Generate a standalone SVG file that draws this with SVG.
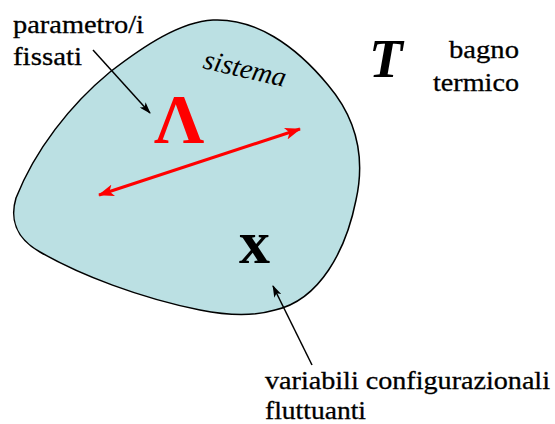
<svg xmlns="http://www.w3.org/2000/svg" width="555" height="424" viewBox="0 0 555 424">
<style>
.lbl{font-size:25px;fill:#000;stroke:#000;stroke-width:0.3}
.blk{stroke:#000;stroke-width:1.5;fill:none}
.red{stroke:#f00;stroke-width:3;fill:none}
</style>
<defs>
<marker id="ab" markerWidth="12" markerHeight="8" refX="11" refY="4" orient="auto" markerUnits="userSpaceOnUse">
<path d="M0,0 L12,4 L0,8 L3,4 Z" fill="#000"/>
</marker>
<marker id="ar" markerWidth="16" markerHeight="12" refX="15" refY="6" orient="auto-start-reverse" markerUnits="userSpaceOnUse">
<path d="M0,0 L16,6 L0,12 L4,6 Z" fill="#f00"/>
</marker>
</defs>
<rect width="555" height="424" fill="#fff"/>
<g id="sistema">
<path d="M213,20 C255,18 295,45 328,85 C356,118 366,155 356,200 C346,250 320,300 275,310 C255,316 230,316 200,310 C140,298 80,275 40,252 C15,238 10,218 16,198 C35,150 70,105 110,72 C145,45 180,22 213,20 Z" fill="#bbe0e3" stroke="#000" stroke-width="1.5"/>
<text x="202" y="68" font-family="Liberation Serif" font-size="28" font-style="italic" transform="rotate(13 202 68)">sistema</text>
</g>
<g id="lambda">
<text x="154" y="143" font-family="Liberation Serif" font-size="70" font-weight="bold" fill="#f00">Λ</text>
</g>
<g id="x">
<text x="239" y="263" font-family="Liberation Serif" font-size="62" font-weight="bold">x</text>
</g>
<g id="T">
<text x="369" y="77" font-family="Liberation Serif" font-size="55" font-style="italic" font-weight="bold">T</text>
</g>
<g id="bagno">
<text class="lbl" font-family="Liberation Serif" x="449" y="58" textLength="70" lengthAdjust="spacingAndGlyphs">bagno</text>
<text class="lbl" font-family="Liberation Serif" x="433" y="91" textLength="86" lengthAdjust="spacingAndGlyphs">termico</text>
</g>
<g id="parametri">
<text class="lbl" font-family="Liberation Serif" x="13" y="33" textLength="131" lengthAdjust="spacingAndGlyphs">parametro/i</text>
<text class="lbl" font-family="Liberation Serif" x="13" y="65" textLength="69" lengthAdjust="spacingAndGlyphs">fissati</text>
</g>
<g id="variabili">
<text class="lbl" font-family="Liberation Serif" x="265" y="389" textLength="285" lengthAdjust="spacingAndGlyphs">variabili configurazionali</text>
<text class="lbl" font-family="Liberation Serif" x="265" y="419" textLength="101" lengthAdjust="spacingAndGlyphs">fluttuanti</text>
</g>
<g id="connectors">
<line class="blk" x1="93" y1="50" x2="150" y2="113" marker-end="url(#ab)"/>
<line class="blk" x1="312" y1="365" x2="273" y2="286" marker-end="url(#ab)"/>
<line class="red" x1="99" y1="195" x2="300" y2="129" marker-start="url(#ar)" marker-end="url(#ar)"/>
</g>
</svg>
